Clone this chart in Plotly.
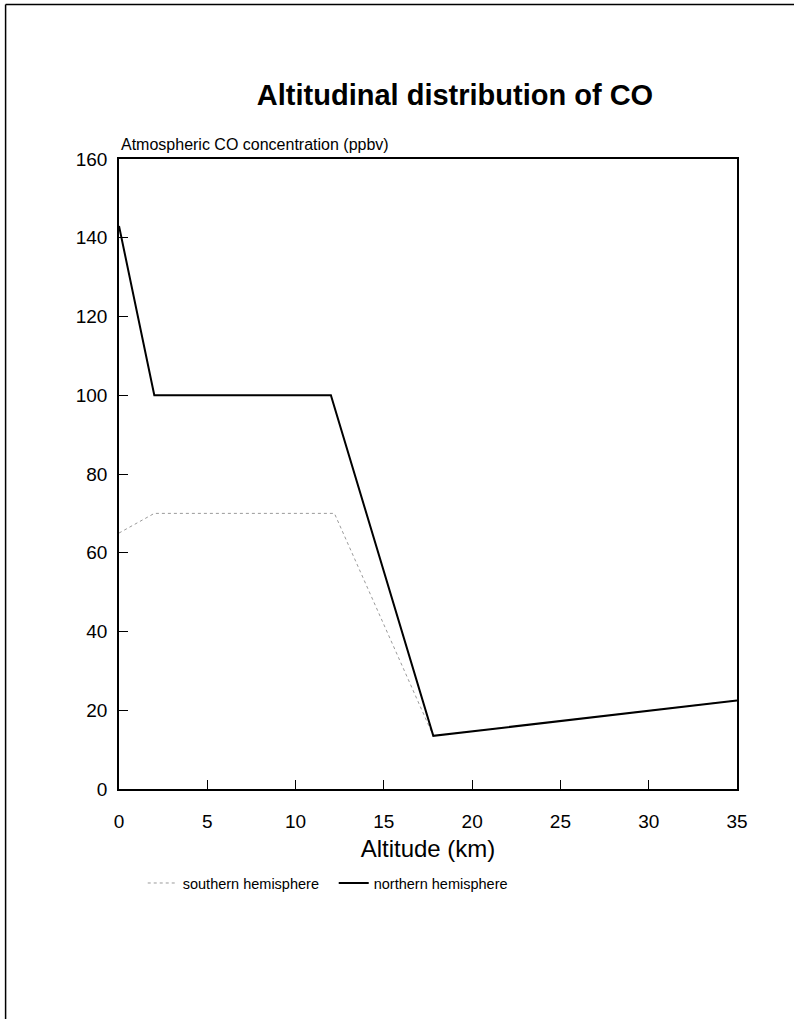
import plotly.graph_objects as go

altitude_north = [0, 2, 12, 17.8, 35]
co_north = [143, 100, 100, 13.5, 22.5]
altitude_south = [0, 2, 12.2, 17.8, 35]
co_south = [65, 70, 70, 13.5, 22.5]

x_ticks = [0, 5, 10, 15, 20, 25, 30, 35]
y_ticks = [0, 20, 40, 60, 80, 100, 120, 140, 160]

W, H = 794, 1019
L, R, T, B = 119.3, 57.3, 159.4, 230
pw = W - L - R
ph = H - T - B

fig = go.Figure()
fig.add_trace(go.Scatter(x=altitude_south, y=co_south, mode="lines",
                         name="southern hemisphere",
                         line=dict(color="#9a9a9a", width=1, dash="dot")))
fig.add_trace(go.Scatter(x=altitude_north, y=co_north, mode="lines",
                         name="northern hemisphere",
                         line=dict(color="black", width=2)))

font = "Liberation Sans, Arial, sans-serif"

fig.update_layout(
    width=W, height=H,
    margin=dict(l=L, r=R, t=T, b=B, pad=0),
    paper_bgcolor="white", plot_bgcolor="white",
    font=dict(family=font, color="black"),
    title=dict(text="<b>Altitudinal distribution of CO</b>",
               x=455 / W, xanchor="center", y=1 - 95 / H, yanchor="middle",
               font=dict(size=29, family=font, color="black")),
    showlegend=True,
    legend=dict(orientation="h", x=(143 - L) / pw, xanchor="left",
                y=-(883 - (T + ph)) / ph, yanchor="middle",
                entrywidth=146, entrywidthmode="pixels",
                font=dict(size=14.5, family=font, color="black"),
                bgcolor="rgba(0,0,0,0)"),
    xaxis=dict(range=[0, 35], tickvals=x_ticks, ticks="inside", ticklen=9,
               tickcolor="black", showline=True, linecolor="black", linewidth=1.5,
               mirror=True, showgrid=False, zeroline=False,
               ticklabelstandoff=14,
               tickfont=dict(size=19, family=font),
               title=dict(text="Altitude (km)", font=dict(size=24, family=font), standoff=10)),
    yaxis=dict(range=[0, 160], tickvals=y_ticks, ticks="inside", ticklen=9,
               tickcolor="black", showline=True, linecolor="black", linewidth=1.5,
               mirror=True, showgrid=False, zeroline=False,
               ticklabelstandoff=6,
               tickfont=dict(size=19, family=font)),
)

fig.add_annotation(text="Atmospheric CO concentration (ppbv)", xref="paper", yref="paper",
                   x=0, y=1, xanchor="left", yanchor="bottom", yshift=4, showarrow=False,
                   font=dict(size=16, family=font, color="black"))

# outer frame (top and left edges)
lx = (6 - L) / pw
ty = 1 + (T - 5) / ph
by = -(B + 5) / ph
rx = (W + 5 - L) / pw
fig.add_shape(type="line", xref="paper", yref="paper", x0=lx, x1=rx, y0=ty, y1=ty,
              line=dict(color="black", width=1.5))
fig.add_shape(type="line", xref="paper", yref="paper", x0=lx, x1=lx, y0=by, y1=ty,
              line=dict(color="black", width=1.5))

fig.write_html("out.html")
